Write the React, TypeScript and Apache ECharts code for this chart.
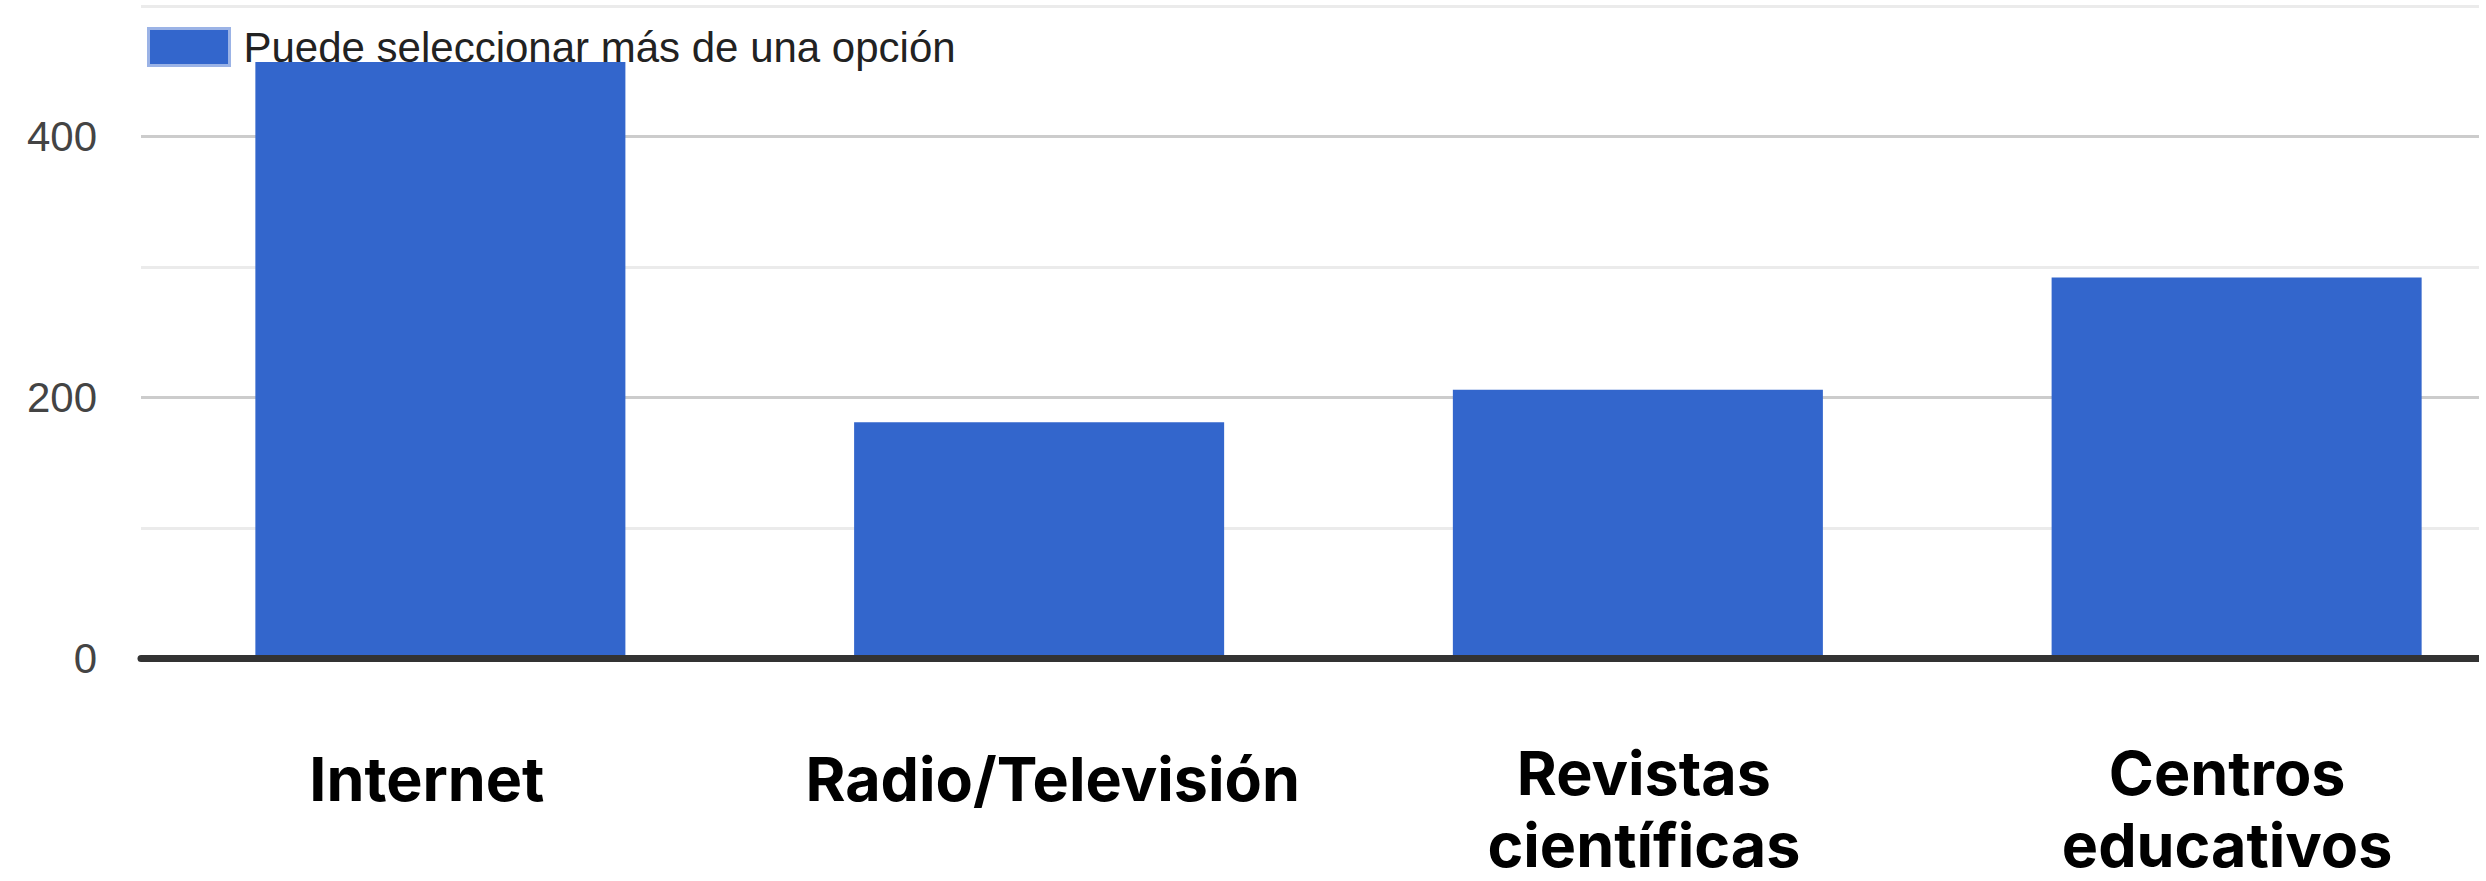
import React, { useEffect, useRef } from "react";
import * as echarts from "echarts";

const categories = ["Internet", "Radio/Televisión", "Revistas\ncientíficas", "Centros\neducativos"];
const seriesName = "Puede seleccionar más de una opción";
const values = [457, 181, 206, 292];
const yLabelTicks = [0, 200, 400];
const yMin = 0;
const yMax = 500;
const yStep = 100;

// small per-label nudges (padding) so the category texts sit where the reference puts them
const labelPadding = [
  [6, 27, 0, 0],
  [6, 0, 0, 27],
  [0, 0, 0, 12],
  [0, 19, 0, 0],
];

export default function App() {
  const ref = useRef<HTMLDivElement>(null);
  useEffect(() => {
    document.body.style.margin = "0";
    const chart = echarts.init(ref.current!, null, { renderer: "svg" });
    chart.setOption({
      animation: false,
      backgroundColor: "#ffffff",
      legend: {
        left: 142,
        top: 21,
        icon: "rect",
        itemWidth: 81,
        itemHeight: 37,
        selectedMode: false,
        itemStyle: { borderColor: "#9bb3e6", borderWidth: 3 },
        textStyle: {
          fontSize: 42,
          fontFamily: "'Liberation Sans', Arial, sans-serif",
          color: "#222222",
          padding: [0, 0, 0, 9],
        },
        data: [seriesName],
      },
      grid: { left: 141, right: 0, top: 6, bottom: 222.5, containLabel: false, outerBoundsMode: "none" },
      xAxis: {
        type: "category",
        data: categories.map((c, i) => ({ value: c, textStyle: { padding: labelPadding[i] } })),
        z: 3,
        axisLine: { show: true, lineStyle: { color: "#333333", width: 7 } },
        axisTick: { show: false },
        splitLine: { show: false },
        axisLabel: {
          interval: 0,
          margin: 78,
          fontSize: 61,
          fontWeight: 700,
          lineHeight: 72,
          fontFamily: "Inter, 'Noto Sans', sans-serif",
          color: "#000000",
        },
      },
      yAxis: {
        type: "value",
        min: yMin,
        max: yMax,
        interval: yStep,
        axisLine: { show: false },
        axisTick: { show: false },
        splitLine: { show: true, lineStyle: { color: ["#cccccc", "#ebebeb"], width: 3 } },
        axisLabel: {
          margin: 44,
          fontSize: 42,
          fontFamily: "'Liberation Sans', Arial, sans-serif",
          color: "#444444",
          formatter: (v: number) => (yLabelTicks.includes(v) ? String(v) : ""),
        },
      },
      series: [
        {
          type: "bar",
          name: seriesName,
          data: values,
          barCategoryGap: "38.2%",
          itemStyle: { color: "#3366cc" },
        },
      ],
    });
    return () => chart.dispose();
  }, []);
  return (
    <div style={{ position: "absolute", left: 0, top: 0, width: 2479, height: 881, overflow: "hidden", background: "#ffffff" }}>
      <div ref={ref} style={{ width: 2536, height: 881 }} />
    </div>
  );
}
